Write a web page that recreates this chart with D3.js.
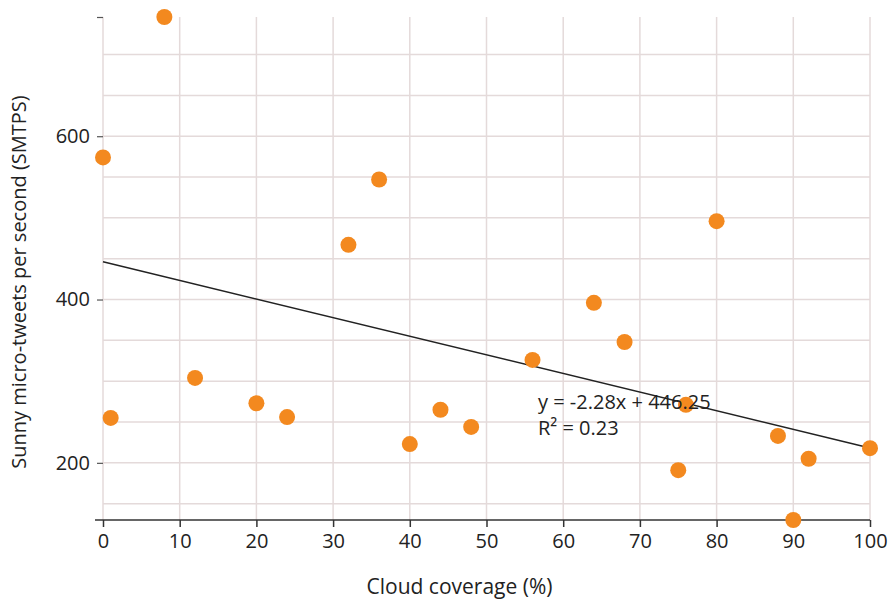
<!doctype html>
<html>
<head>
    <meta charset="UTF-8">
    <title>smtps scatter</title>
    <script src="https://d3js.org/d3.v7.min.js"></script>
    <style>
        body{ margin:0; background:#fff; }
        text{ font-family: "Open Sans", sans-serif; fill:#222; }
    </style>
</head>
<body>
  <svg id="chart" width="892" height="599"></svg>
  <script>
    // data
    var cloud = [0, 1, 8, 12, 20, 24, 32, 36, 40, 44, 48, 56, 64, 68, 75, 76, 80, 88, 90, 92, 100];
    var smtps = [574, 255, 746, 304, 273, 256, 467, 547, 223, 265, 244, 326, 396, 348, 191, 271, 496, 233, 130, 205, 218];
    var xTicks = [0, 10, 20, 30, 40, 50, 60, 70, 80, 90, 100];
    var yTicks = [200, 400, 600];
    var yGrid = [150, 200, 250, 300, 350, 400, 450, 500, 550, 600, 650, 700];
    var slope = -2.28, intercept = 446.25, r2 = 0.23;

    var m = {top:17, right:22, bottom:79, left:103};
    var w = 892, h = 599;
    var svg = d3.select("#chart");

    var x = d3.scaleLinear().domain(d3.extent(cloud)).range([m.left, w - m.right]);
    var y = d3.scaleLinear().domain(d3.extent(smtps)).range([h - m.bottom, m.top]);

    // grid
    svg.append("g").selectAll("line").data(yGrid).enter().append("line")
        .attr("x1", x(0)).attr("x2", x(100))
        .attr("y1", function(d){ return y(d); }).attr("y2", function(d){ return y(d); })
        .attr("stroke", "#e4dada").attr("stroke-width", 1.5);
    svg.append("g").selectAll("line").data(xTicks).enter().append("line")
        .attr("x1", function(d){ return x(d); }).attr("x2", function(d){ return x(d); })
        .attr("y1", y.range()[1]).attr("y2", y.range()[0])
        .attr("stroke", "#e4dada").attr("stroke-width", 1.5);

    // x axis
    var xa = svg.append("g").attr("transform", "translate(0," + (h - m.bottom) + ")")
        .call(d3.axisBottom(x).tickValues(xTicks).tickSize(7).tickSizeOuter(0).tickPadding(7));
    xa.select(".domain").attr("stroke", "#333").attr("stroke-width", 1.5).attr("d", "M" + (m.left - 8) + ",0H" + (w - m.right));
    xa.selectAll(".tick line").attr("stroke", "#333").attr("stroke-width", 1.5);
    xa.selectAll("text").attr("font-size", 20).attr("font-family", "Open Sans").attr("fill", "#222");

    // y axis
    var ya = svg.append("g").attr("transform", "translate(" + m.left + ",0)")
        .call(d3.axisLeft(y).tickValues(yTicks.concat([y.domain()[1]])).tickSize(6).tickPadding(7)
            .tickFormat(function(d){ return yTicks.indexOf(d) >= 0 ? d : ""; }));
    ya.select(".domain").remove();
    ya.selectAll(".tick line").attr("stroke", "#555").attr("stroke-width", 1.2);
    ya.selectAll("text").attr("font-size", 20).attr("font-family", "Open Sans").attr("fill", "#222");

    // trend line
    svg.append("line")
        .attr("x1", x(0)).attr("y1", y(intercept))
        .attr("x2", x(100)).attr("y2", y(intercept + slope * 100))
        .attr("stroke", "#222").attr("stroke-width", 1.5);

    // points
    svg.append("g").selectAll("circle").data(cloud).enter().append("circle")
        .attr("cx", function(d){ return x(d); })
        .attr("cy", function(d, i){ return y(smtps[i]); })
        .attr("r", 8)
        .attr("fill", "#f3891f");

    // regression label
    svg.append("text").attr("x", 538).attr("y", 409).attr("font-size", 20)
        .text("y = " + slope + "x + " + intercept);
    svg.append("text").attr("x", 538).attr("y", 435).attr("font-size", 20)
        .text("R² = " + r2);

    // axis titles
    svg.append("text").attr("x", (x(0) + x(100)) / 2 - 27).attr("y", 594)
        .attr("text-anchor", "middle").attr("font-size", 21)
        .text("Cloud coverage (%)");
    svg.append("text").attr("transform", "translate(26,282) rotate(-90)")
        .attr("text-anchor", "middle").attr("font-size", 20)
        .text("Sunny micro-tweets per second (SMTPS)");
  </script>
</body>
</html>
